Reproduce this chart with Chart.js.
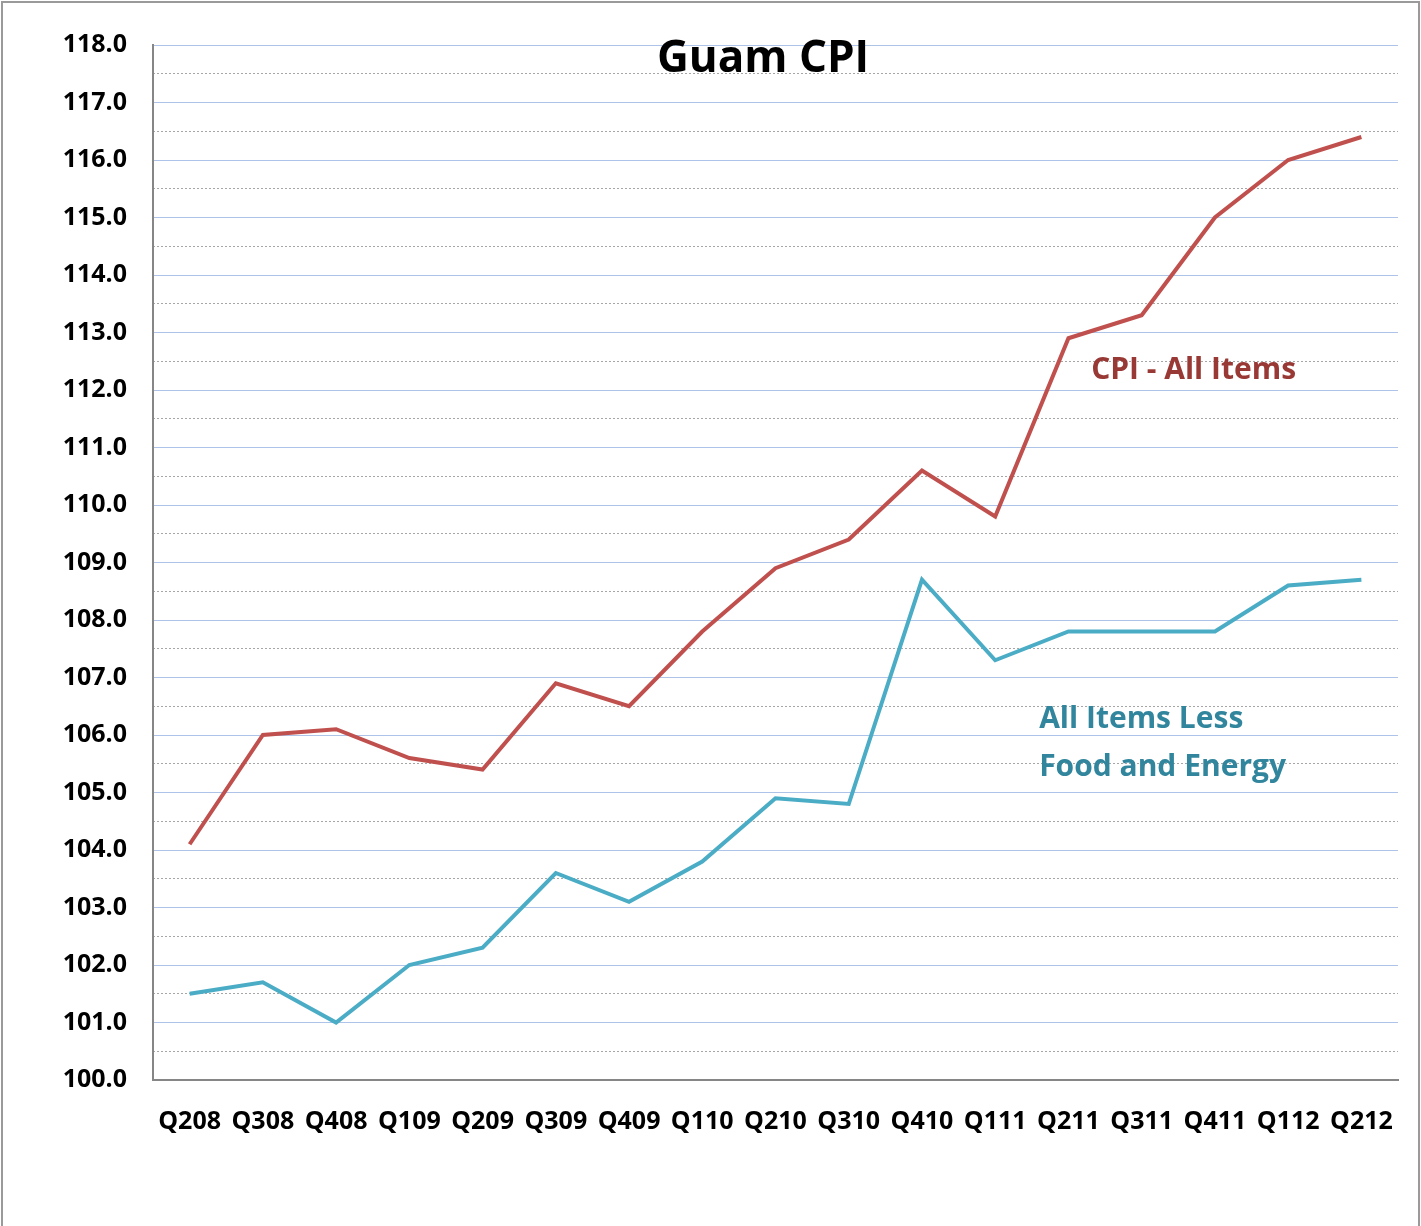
<!DOCTYPE html>
<html>
<head>
<meta charset="utf-8">
<script src="https://cdn.jsdelivr.net/npm/chart.js@4/dist/chart.umd.min.js"></script>
<style>
  body { margin: 0; background: #fff; }
  #frame { position: absolute; left: 1px; top: 1px; width: 1415px; height: 1300px; border: 2px solid #9a9a9a; }
  #chart { position: absolute; left: 0; top: 0; }
</style>
</head>
<body>
<div id="frame"></div>
<canvas id="chart" width="1421" height="1226"></canvas>
<script>
const quarters = ["Q208", "Q308", "Q408", "Q109", "Q209", "Q309", "Q409", "Q110", "Q210",
  "Q310", "Q410", "Q111", "Q211", "Q311", "Q411", "Q112", "Q212"];
const cpiAll = [104.1, 106.0, 106.1, 105.6, 105.4, 106.9, 106.5, 107.8, 108.9,
  109.4, 110.6, 109.8, 112.9, 113.3, 115.0, 116.0, 116.4];
const cpiCore = [101.5, 101.7, 101.0, 102.0, 102.3, 103.6, 103.1, 103.8, 104.9,
  104.8, 108.7, 107.3, 107.8, 107.8, 107.8, 108.6, 108.7];
const yMin = 100;
const yMax = 118;

const FONT = "'Open Sans', 'DejaVu Sans', sans-serif";

// in-chart labels, anchored in data coordinates (category index, value)
const notes = [
  { lines: ["CPI - All Items"], at: [12.31, 112.2], color: "#993936", size: 30 },
  { lines: ["All Items Less", "Food and Energy"], at: [11.6, 106.12], color: "#31869d", size: 30 },
];

const overlay = {
  id: "overlay",
  afterDatasetsDraw(chart) {
    const { ctx, chartArea, scales } = chart;
    ctx.save();
    ctx.textAlign = "center";
    ctx.textBaseline = "alphabetic";
    ctx.fillStyle = "#000";
    ctx.font = "bold 44px " + FONT;
    ctx.fillText("Guam CPI", chartArea.left + chartArea.width * 0.49, chartArea.top + 27);
    ctx.textAlign = "left";
    notes.forEach((n) => {
      ctx.font = "bold " + n.size + "px " + FONT;
      ctx.fillStyle = n.color;
      const x = scales.x.getPixelForValue(n.at[0]);
      const y = scales.y.getPixelForValue(n.at[1]);
      n.lines.forEach((t, i) => ctx.fillText(t, x, y + i * 48));
    });
    ctx.restore();
  },
};

new Chart(document.getElementById("chart").getContext("2d"), {
  type: "line",
  data: {
    labels: quarters,
    datasets: [
      {
        label: "CPI - All Items",
        data: cpiAll,
        borderColor: "#c0504d",
        borderWidth: 4,
        pointRadius: 0,
        tension: 0,
      },
      {
        label: "All Items Less Food and Energy",
        data: cpiCore,
        borderColor: "#4bacc6",
        borderWidth: 4,
        pointRadius: 0,
        tension: 0,
      },
    ],
  },
  options: {
    responsive: false,
    animation: false,
    layout: { padding: { left: 0, top: 45, right: 23, bottom: 0 } },
    plugins: {
      legend: { display: false },
      tooltip: { enabled: false },
    },
    scales: {
      x: {
        offset: true,
        grid: { display: false, drawTicks: false },
        border: { color: "#868686", width: 2 },
        ticks: {
          color: "#000",
          font: { family: FONT, size: 25, weight: "bold" },
          padding: 27,
          maxRotation: 0,
          autoSkip: false,
        },
        afterFit: (s) => { s.height = 146; },
      },
      y: {
        min: yMin,
        max: yMax,
        weight: 1,
        grid: { color: "#adc4e8", lineWidth: 1, drawTicks: false },
        border: { color: "#868686", width: 2 },
        ticks: {
          stepSize: 1,
          color: "#000",
          font: { family: FONT, size: 25, weight: "bold" },
          padding: 26,
          callback: (v) => v.toFixed(1),
        },
        afterFit: (s) => { s.width = 153; },
      },
      yMinor: {
        min: yMin,
        max: yMax,
        weight: 0,
        position: "left",
        grid: {
          color: (c) => (Number.isInteger(c.tick.value) ? "transparent" : "#a6a6a6"),
          lineWidth: 1,
          drawTicks: false,
        },
        border: { display: false, dash: [2, 2] },
        ticks: { display: false, stepSize: 0.5 },
        afterFit: (s) => { s.width = 0; },
      },
    },
  },
  plugins: [overlay],
});
</script>
</body>
</html>
